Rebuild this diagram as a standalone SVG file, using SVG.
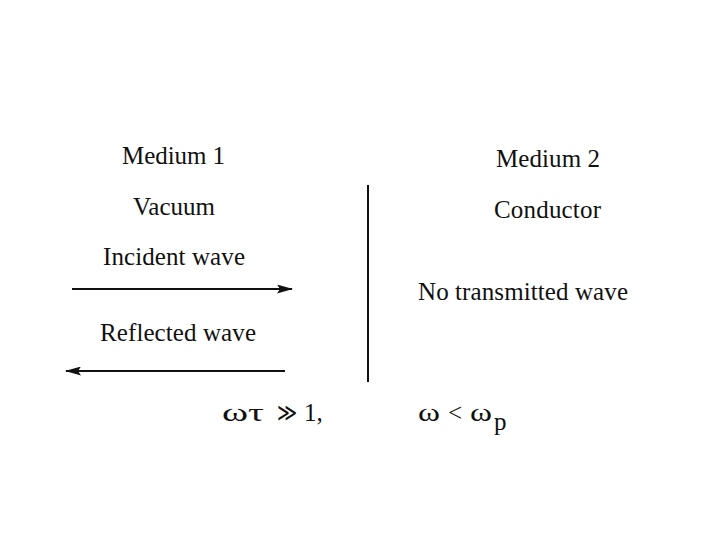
<svg xmlns="http://www.w3.org/2000/svg" width="720" height="540" viewBox="0 0 720 540">
<style>
text{font-family:"Liberation Serif","Times New Roman",serif;font-size:25px;fill:#111}
line.c{stroke:#111;stroke-width:2}
</style>
<defs>
<marker id="ah" markerWidth="16" markerHeight="9" refX="15" refY="4.5" orient="auto" markerUnits="userSpaceOnUse">
<path d="M0,0 L16,4.5 L0,9 L3,4.5 Z" fill="#111"/>
</marker>
</defs>
<rect width="720" height="540" fill="#fff"/>
<g id="medium1">
<text x="122" y="164" textLength="103">Medium 1</text>
<text x="133" y="215" textLength="82">Vacuum</text>
</g>
<g id="medium2">
<text x="496" y="167" textLength="104">Medium 2</text>
<text x="494" y="218" textLength="107">Conductor</text>
</g>
<g id="incident">
<text x="103" y="265" textLength="142">Incident wave</text>
</g>
<g id="reflected">
<text x="100" y="341" textLength="156">Reflected wave</text>
</g>
<g id="transmitted">
<text x="418" y="300" textLength="210">No transmitted wave</text>
</g>
<g id="cond1">
<text x="222" y="421" textLength="42" lengthAdjust="spacingAndGlyphs" font-size="26">ωτ</text>
<text x="277" y="421" textLength="20" lengthAdjust="spacingAndGlyphs" font-size="22">≫</text>
<text x="304" y="421">1,</text>
</g>
<g id="cond2">
<text x="418" y="421" textLength="22" lengthAdjust="spacingAndGlyphs" font-size="26">ω</text>
<text x="448" y="421">&lt;</text>
<text x="470" y="421" textLength="22" lengthAdjust="spacingAndGlyphs" font-size="26">ω</text>
<text x="494" y="430" font-family="Liberation Sans,sans-serif" font-size="17">p</text>
</g>
<g id="connectors">
<line class="c" x1="368" y1="185" x2="368" y2="382"/>
<line class="c" x1="72" y1="289" x2="292" y2="289" marker-end="url(#ah)"/>
<line class="c" x1="285" y1="371" x2="66" y2="371" marker-end="url(#ah)"/>
</g>
</svg>
